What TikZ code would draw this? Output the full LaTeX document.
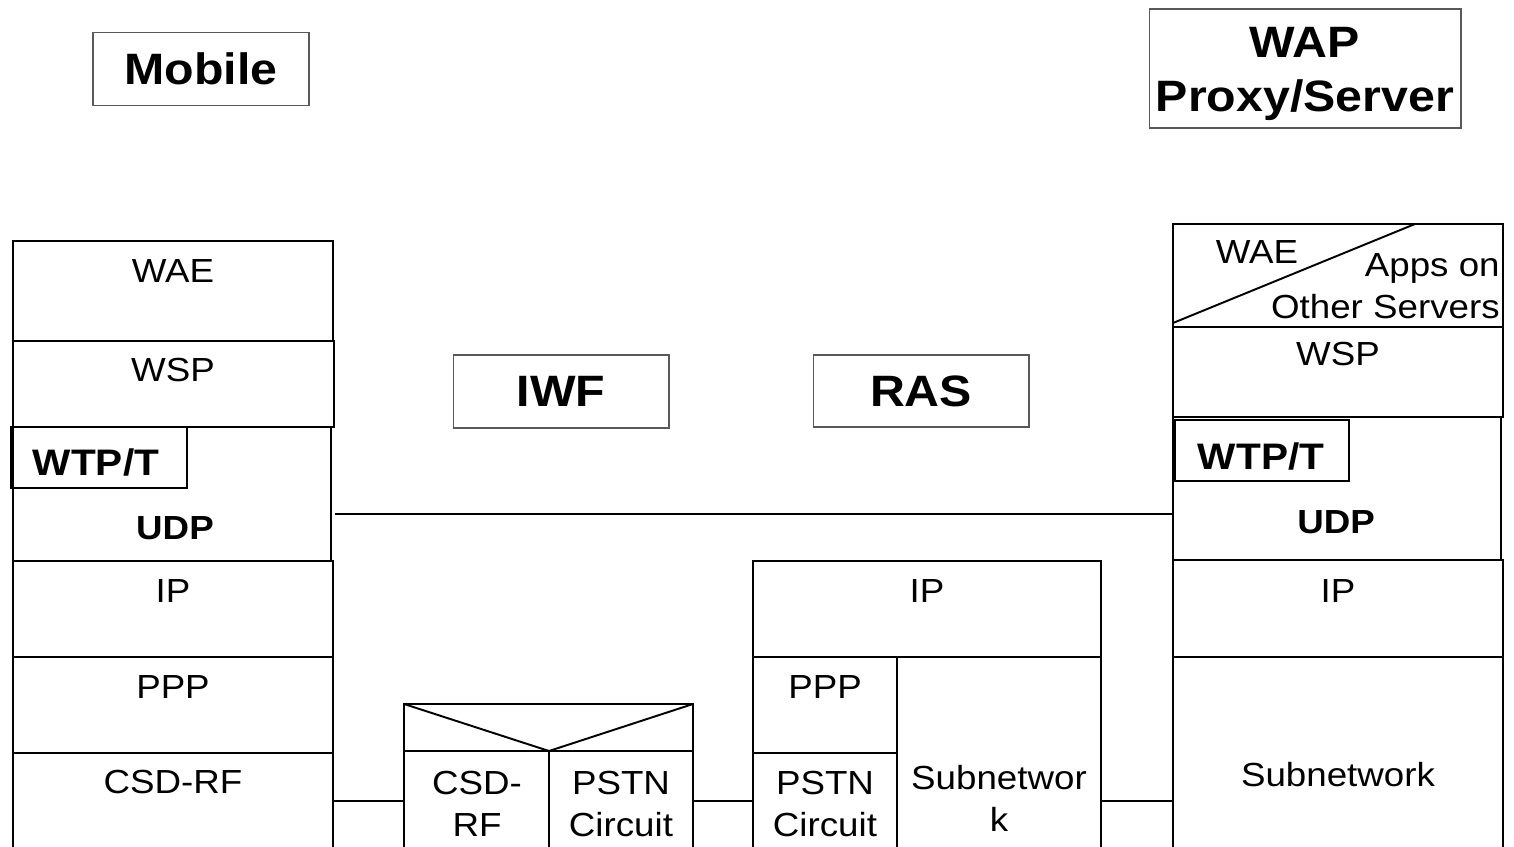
\documentclass[tikz,border=0pt]{standalone}
\usepackage{fontspec}
\setmainfont{Liberation Sans}[FakeStretch=1.1]
\usetikzlibrary{positioning}

\begin{document}
\begin{tikzpicture}[x=0.02cm, y=-0.02cm,
    layer/.style={draw=black, line width=1.1pt},
    txt/.style={font=\fontsize{19}{24}\selectfont, align=center, inner sep=0pt},
    btxt/.style={txt, font=\fontsize{19}{24}\selectfont\bfseries},
    wtxt/.style={txt, font=\fontsize{21}{24}\selectfont\bfseries},
    head/.style={draw=black!65, line width=0.6pt, align=center,
        font=\fontsize{25}{31}\selectfont\bfseries}]

\useasboundingbox (0,0) rectangle (1514,847);
\clip (0,0) rectangle (1514,847);

% titles
\node[head, minimum width=4.32cm, minimum height=1.46cm] (mobile) at (201,69) {Mobile};
\node[head, minimum width=6.24cm, minimum height=2.38cm] (wap) at (1305,68.5) {};
\node[head, draw=none, inner sep=0pt] (waptxt) at (1305,74) {WAP\\Proxy/Server};
\node[head, minimum width=4.32cm, minimum height=1.46cm] (iwf) at (561,391.5) {IWF};
\node[head, minimum width=4.32cm, minimum height=1.44cm] (ras) at (921,391) {RAS};

% mobile stack
\draw[layer] (13,241) rectangle (333,341);
\draw[layer] (13,341) rectangle (334,427);
\draw[layer] (13,427) rectangle (331,561);
\draw[layer] (11,427) rectangle (187,488);
\draw[layer] (13,561) rectangle (333,657);
\draw[layer] (13,657) rectangle (333,753);
\draw[layer] (13,753) rectangle (333,900);
\node[txt] (mwae) at (173,271) {WAE};
\node[txt] (mwsp) at (173,370) {WSP};
\node[wtxt] (mwtp) at (96,463) {WTP/T};
\node[btxt] (mudp) at (175,528) {UDP};
\node[txt] (mip) at (173,591) {IP};
\node[txt] (mppp) at (173,687) {PPP};
\node[txt] (mcsd) at (173,782) {CSD-RF};

% iwf stack
\draw[layer] (404,704) rectangle (693,751);
\draw[layer] (404,704) -- (549,751) -- (693,704);
\draw[layer] (404,751) rectangle (549,900);
\draw[layer] (549,751) rectangle (693,900);
\node[txt] (icsd) at (477,804) {CSD-\\RF};
\node[txt] (ipstn) at (621,804) {PSTN\\Circuit};

% ras stack
\draw[layer] (753,561) rectangle (1101,657);
\draw[layer] (753,657) rectangle (897,753);
\draw[layer] (753,753) rectangle (897,900);
\draw[layer] (897,657) rectangle (1101,900);
\node[txt] (rip) at (927,591) {IP};
\node[txt] (rppp) at (825,687) {PPP};
\node[txt] (rpstn) at (825,804) {PSTN\\Circuit};
\node[txt] (rsub) at (999,798) {Subnetwor\\k};

% server stack
\draw[layer] (1173,224) rectangle (1503,327);
\draw[layer] (1173,323) -- (1415,224);
\draw[layer] (1173,327) rectangle (1503,417);
\draw[layer] (1173,417) rectangle (1501,560);
\draw[layer] (1175,420) rectangle (1349,481);
\draw[layer] (1173,560) rectangle (1503,657);
\draw[layer] (1173,657) rectangle (1503,900);
\node[txt] (swae) at (1257,252) {WAE};
\node[txt, align=right, anchor=east] (sapps) at (1500,286) {Apps on\\Other Servers};
\node[txt] (swsp) at (1338,354) {WSP};
\node[wtxt] (swtp) at (1261,457) {WTP/T};
\node[btxt] (sudp) at (1336,522) {UDP};
\node[txt] (sip) at (1338,591) {IP};
\node[txt] (ssub) at (1338,775) {Subnetwork};

% links
\coordinate (mu) at (335,514);
\coordinate (su) at (1173,514);
\coordinate (ml) at (333,801);
\coordinate (il) at (404,801);
\coordinate (ir) at (693,801);
\coordinate (rl) at (753,801);
\coordinate (rr) at (1101,801);
\coordinate (sl) at (1173,801);
\draw[layer] (mu) -- (su);
\draw[layer] (ml) -- (il);
\draw[layer] (ir) -- (rl);
\draw[layer] (rr) -- (sl);

\end{tikzpicture}
\end{document}
